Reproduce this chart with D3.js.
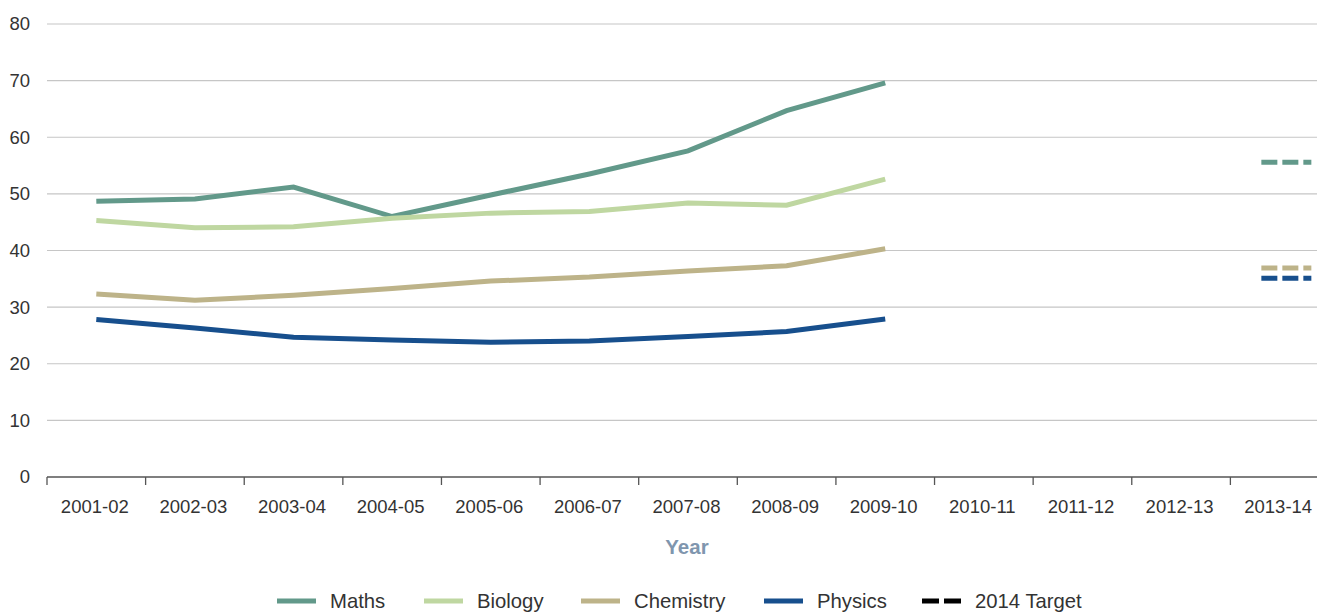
<!DOCTYPE html>
<html>
<head>
<meta charset="utf-8">
<script src="https://cdn.jsdelivr.net/npm/d3@7"></script>
<style>
  html, body { margin: 0; padding: 0; background: #fff; }
  svg { display: block; font-family: "Liberation Sans", Arial, Helvetica, sans-serif; }
</style>
</head>
<body>
<svg id="chart" width="1317" height="612"></svg>
<script>
const years = ["2001-02","2002-03","2003-04","2004-05","2005-06","2006-07","2007-08","2008-09","2009-10","2010-11","2011-12","2012-13","2013-14"];
const maths     = [48.7, 49.1, 51.2, 46.0, 49.8, 53.5, 57.6, 64.7, 69.6];
const biology   = [45.3, 44.0, 44.2, 45.7, 46.6, 46.9, 48.4, 48.0, 52.6];
const chemistry = [32.3, 31.2, 32.1, 33.3, 34.6, 35.3, 36.4, 37.3, 40.3];
const physics   = [27.8, 26.3, 24.7, 24.2, 23.8, 24.0, 24.8, 25.7, 27.9];
const targetYear = "2013-14";
const targets = [55.6, 36.9, 35.1]; // Maths, Chemistry, Physics
const yTicks = [0, 10, 20, 30, 40, 50, 60, 70, 80];

const colors = { Maths: "#62998a", Biology: "#bfd7a1", Chemistry: "#bdb389", Physics: "#174f8d", Target: "#000" };

const series = [
  { name: "Maths", values: maths, color: colors.Maths },
  { name: "Biology", values: biology, color: colors.Biology },
  { name: "Chemistry", values: chemistry, color: colors.Chemistry },
  { name: "Physics", values: physics, color: colors.Physics }
];
const targetSeries = [
  { name: "Maths", value: targets[0], color: colors.Maths },
  { name: "Chemistry", value: targets[1], color: colors.Chemistry },
  { name: "Physics", value: targets[2], color: colors.Physics }
];

const svg = d3.select("#chart");
const W = 1317;
const mLeft = 47, mRight = 1329, mTop = 24, mBottom = 477;

const x = d3.scaleBand().domain(years).range([mLeft, mRight]).padding(0);
const y = d3.scaleLinear().domain([0, 80]).range([mBottom, mTop]);

// gridlines
svg.append("g").selectAll("line").data(yTicks.filter(d => d > 0)).join("line")
  .attr("x1", mLeft).attr("x2", W)
  .attr("y1", d => y(d)).attr("y2", d => y(d))
  .attr("stroke", "#c6c6c6").attr("stroke-width", 1.2);

// y labels
svg.append("g").selectAll("text").data(yTicks).join("text")
  .attr("x", 30).attr("y", d => y(d)).attr("dy", "0.35em")
  .attr("text-anchor", "end").attr("font-size", 18.5).attr("fill", "#333")
  .text(d => d);

// x axis
const xAxis = svg.append("g");
xAxis.append("line").attr("x1", mLeft).attr("x2", W).attr("y1", mBottom).attr("y2", mBottom)
  .attr("stroke", "#555").attr("stroke-width", 1.3);
xAxis.selectAll("line.tick").data(years).join("line").attr("class", "tick")
  .attr("x1", d => x(d)).attr("x2", d => x(d))
  .attr("y1", mBottom).attr("y2", mBottom + 8)
  .attr("stroke", "#555").attr("stroke-width", 1.3);
xAxis.selectAll("text").data(years).join("text")
  .attr("x", d => x(d) + x.bandwidth() / 2 - 1.5).attr("y", 513)
  .attr("text-anchor", "middle").attr("font-size", 18.5).attr("fill", "#333")
  .text(d => d);

svg.append("text").attr("x", 687).attr("y", 554).attr("text-anchor", "middle")
  .attr("font-size", 20.5).attr("font-weight", "bold").attr("fill", "#7f96ae").text("Year");

// lines
const line = d3.line().x((d, i) => x(years[i]) + x.bandwidth() / 2).y(d => y(d));
svg.append("g").selectAll("path").data(series).join("path")
  .attr("d", d => line(d.values))
  .attr("fill", "none").attr("stroke", d => d.color).attr("stroke-width", 5)
  .attr("stroke-linejoin", "miter");

// targets
svg.append("g").selectAll("line").data(targetSeries).join("line")
  .attr("x1", x(targetYear) + x.bandwidth() * 0.314)
  .attr("x2", x(targetYear) + x.bandwidth() * 0.821)
  .attr("y1", d => y(d.value)).attr("y2", d => y(d.value))
  .attr("stroke", d => d.color).attr("stroke-width", 5).attr("stroke-dasharray", "16,5");

// legend
const legendItems = [
  { name: "Maths", color: colors.Maths, sx: 277, dash: null },
  { name: "Biology", color: colors.Biology, sx: 424, dash: null },
  { name: "Chemistry", color: colors.Chemistry, sx: 581, dash: null },
  { name: "Physics", color: colors.Physics, sx: 764, dash: null },
  { name: "2014 Target", color: colors.Target, sx: 922, dash: "17,5" }
];
const lg = svg.append("g").selectAll("g").data(legendItems).join("g");
lg.append("line").attr("x1", d => d.sx).attr("x2", d => d.sx + 39)
  .attr("y1", 601).attr("y2", 601).attr("stroke", d => d.color).attr("stroke-width", 5)
  .attr("stroke-dasharray", d => d.dash);
lg.append("text").attr("x", d => d.sx + 53).attr("y", 608).attr("font-size", 20.3)
  .attr("fill", "#333").text(d => d.name);
</script>
</body>
</html>
